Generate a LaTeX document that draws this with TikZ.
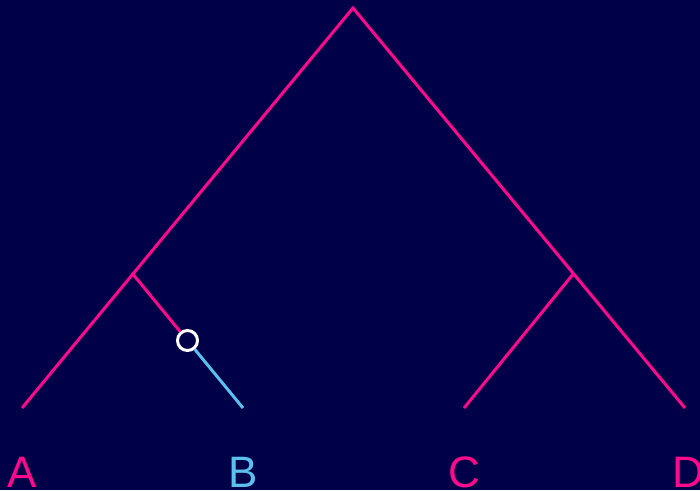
\documentclass[tikz,border=0pt]{standalone}
\usepackage{fontspec}
\setmainfont{Liberation Sans}
\definecolor{bg}{HTML}{000048}
\definecolor{pinkc}{HTML}{FF0A8C}
\definecolor{bluec}{HTML}{5BC0EE}
\begin{document}
\begin{tikzpicture}[x=1pt,y=-1pt,
  edge/.style={draw=pinkc,line width=3pt},
  bedge/.style={draw=bluec,line width=3pt},
  lbl/.style={anchor=base,inner sep=0pt,font=\fontsize{44}{50}\selectfont},
  mark circ/.style={circle,draw=white,fill=bg,line width=3pt,minimum size=20pt,inner sep=0pt}]
\fill[bg] (0,0) rectangle (700,490);
\useasboundingbox (0,0) rectangle (700,490);
\coordinate (root) at (353,8);
\coordinate (l) at (132,273);
\coordinate (r) at (574,273);
\coordinate (a) at (22,408);
\coordinate (b) at (243,408);
\coordinate (c) at (464,408);
\coordinate (d) at (685,408);
\node[mark circ] (m) at (187.5,340.5) {};
\draw[edge,line join=miter] (a) -- (root) -- (d);
\draw[edge] (r) -- (c);
\draw[edge] (l) -- (m);
\draw[bedge] (m) -- (b);
\node[lbl,text=pinkc] (la) at (22,487) {A};
\node[lbl,text=bluec] (lb) at (243,487) {B};
\node[lbl,text=pinkc] (lc) at (464,487) {C};
\node[lbl,text=pinkc] (ld) at (688,487) {D};
\end{tikzpicture}
\end{document}
